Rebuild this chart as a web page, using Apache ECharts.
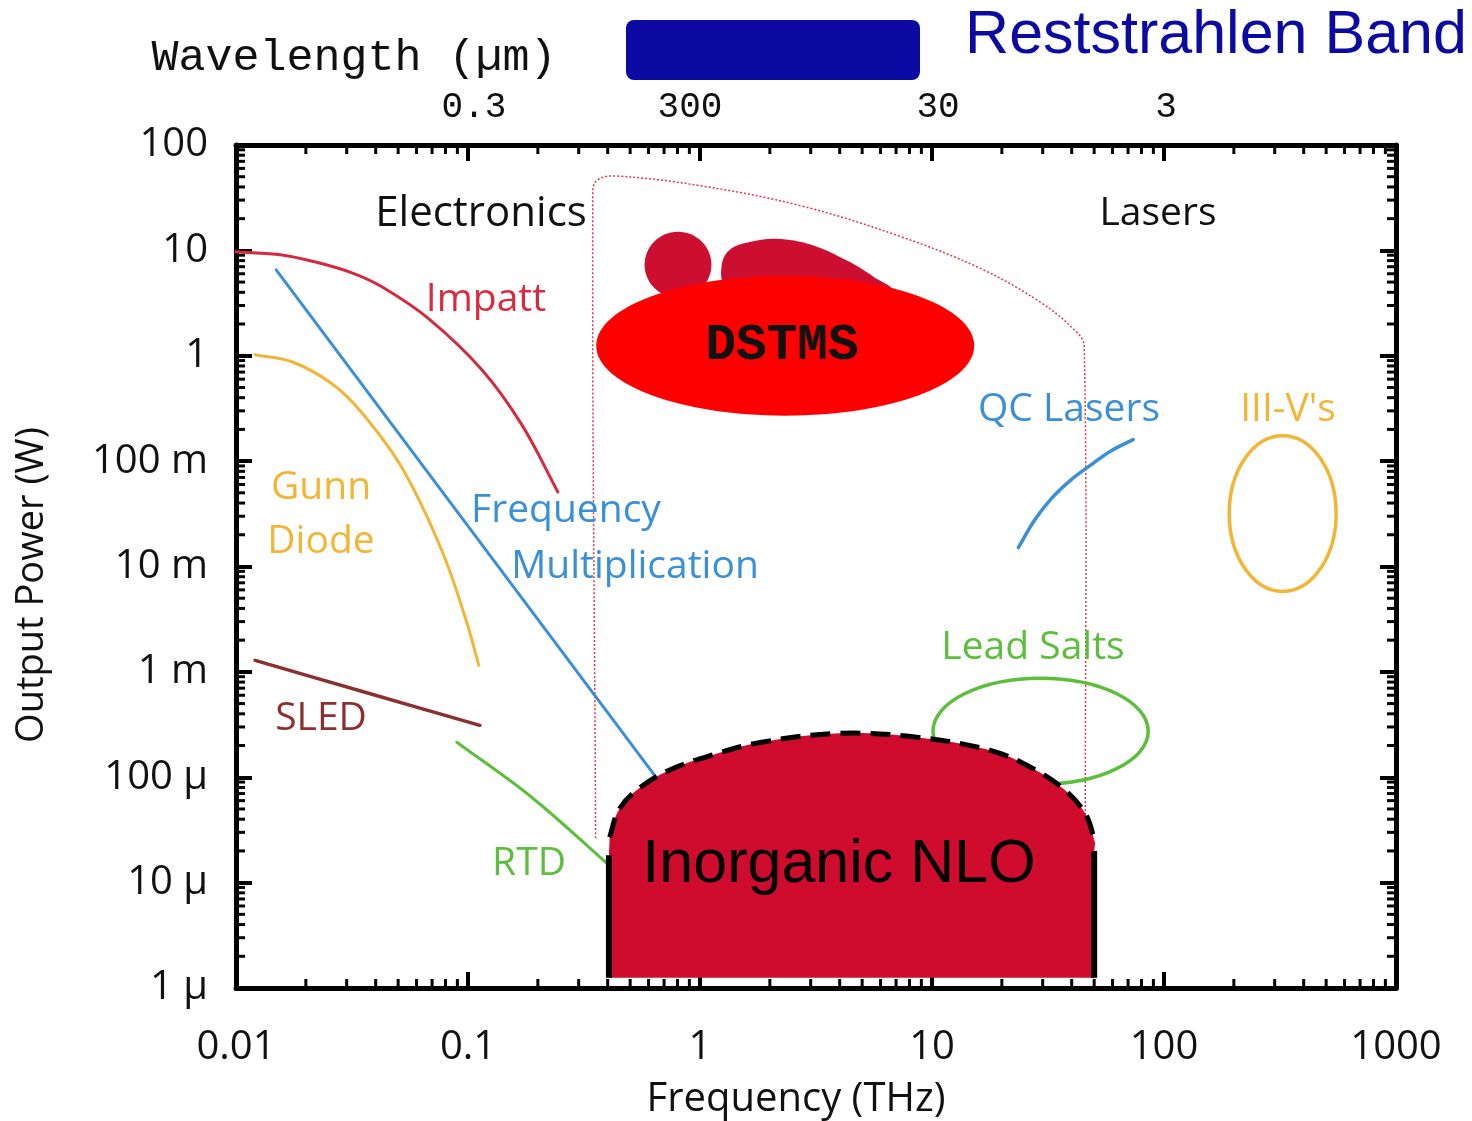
<!DOCTYPE html>
<html>
<head>
<meta charset="utf-8">
<script src="https://cdn.jsdelivr.net/npm/echarts@6/dist/echarts.min.js"></script>
<style>
  html, body { margin: 0; padding: 0; background: #fff; }
  #main { width: 1472px; height: 1121px; }
</style>
</head>
<body>
<div id="main"></div>
<script>
// ---- Axis labels ----
const xTickLabels = ['0.01', '0.1', '1', '10', '100', '1000'];
const yTickLabels = ['1 µ', '10 µ', '100 µ', '1 m', '10 m', '100 m', '1', '10', '100'];
const wavelengthFreq = [0.1, 1, 10, 100];
const wavelengthLabels = ['0.3', '300', '30', '3'];

// ---- Source curves: frequency (THz) / output power (W) ----
const impattFreq  = [0.01, 0.01578, 0.02188, 0.0316, 0.04254, 0.0678, 0.1147, 0.1705, 0.244];
const impattPower = [9.68, 9.06, 7.78, 6.12, 4.51, 2.24, 0.737, 0.222, 0.051];

const multFreq  = [0.0149, 0.718];
const multPower = [6.53, 7.36e-5];

const gunnFreq  = [0.01208, 0.01742, 0.02591, 0.03488, 0.05186, 0.07713, 0.0988, 0.1113];
const gunnPower = [1.022, 0.877, 0.543, 0.2882, 0.0868, 0.01418, 0.002944, 0.001152];

const sledFreq  = [0.0121, 0.036, 0.1125];
const sledPower = [1.285e-3, 6.4e-4, 3.11e-4];

const rtdFreq  = [0.0895, 0.188, 0.396];
const rtdPower = [2.15e-4, 6.46e-5, 1.53e-5];

const qcFreq  = [23.56, 27.61, 32.68, 39.84, 48.59, 59.24, 73.68];
const qcPower = [0.01514, 0.02729, 0.04411, 0.06677, 0.09265, 0.1257, 0.16];

// organic crystal coverage outline (dotted)
const organicFreq  = [0.355, 0.345, 0.362, 0.433, 1.016, 2.739, 7.384, 16.32, 29.59, 41.46, 45.3, 45.8];
const organicPower = [2.64e-5, 36.6, 46.6, 50.8, 40.88, 26.42, 13.43, 6.676, 3.18, 1.726, 1.24, 2.53e-5];

// ---- Regions given as [low, high] extents ----
const leadSaltsFreq  = [10.1, 85.5];
const leadSaltsPower = [8.6e-5, 8.7e-4];
const iiiVFreq  = [191, 552];
const iiiVPower = [0.0058, 0.1745];
const dstmsFreq  = [0.357, 15.2];
const dstmsPower = [0.27, 5.73];
const dotFreq  = [0.577, 1.12];
const dotPower = [3.55, 15.0];

// crimson lobe above DSTMS (closed outline)
const lobeFreq  = [1.289, 1.239, 1.341, 1.636, 2.14, 3.02, 4.32, 5.59, 6.69, 3.69, 1.84];
const lobePower = [4.61, 7.13, 10.1, 12.0, 12.9, 11.3, 7.95, 5.61, 3.95, 3.32, 3.32];

// Inorganic NLO dome and walls
const nloFreq  = [0.408, 0.446, 0.533, 0.732, 1.122, 1.842, 4.03, 8.74, 17.84, 27.06, 37.5, 46.2, 50.5];
const nloPower = [2.70e-5, 4.86e-5, 7.53e-5, 1.16e-4, 1.62e-4, 2.15e-4, 2.61e-4, 2.39e-4, 1.80e-4, 1.22e-4, 7.53e-5, 4.36e-5, 2.37e-5];
const nloWallFreq  = [0.405, 50.0];
const nloWallTop   = [1.82e-5, 2.0e-5];
const nloFloorPower = 1.25e-6;

// log-axis minor tick multiples
const minorSteps = [2, 3, 4, 5, 6, 7, 8, 9];
const xDecades = [-2, -1, 0, 1, 2];
const yDecades = [-6, -5, -4, -3, -2, -1, 0, 1];

const X_MIN = 0.01, X_MAX = 1000, Y_MIN = 1e-6, Y_MAX = 100;

const zip = (xs, ys) => xs.map((x, i) => [x, ys[i]]);

// Smooth cubic path through pixel points; tangents follow the neighbours'
// direction and are scaled by each segment's own length (no overshoot).
function smoothPath(pts, closed, k) {
  k = k == null ? 0.36 : k;
  const n = pts.length;
  const get = i => closed ? pts[(i + n) % n] : pts[Math.max(0, Math.min(n - 1, i))];
  const unit = (a, b) => {
    const dx = b[0] - a[0], dy = b[1] - a[1];
    const l = Math.hypot(dx, dy) || 1;
    return [dx / l, dy / l];
  };
  let d = 'M' + pts[0][0] + ',' + pts[0][1];
  const segs = closed ? n : n - 1;
  for (let i = 0; i < segs; i++) {
    const p0 = get(i - 1), p1 = get(i), p2 = get(i + 1), p3 = get(i + 2);
    const len = Math.hypot(p2[0] - p1[0], p2[1] - p1[1]) * k;
    const t1 = unit(p0, p2), t2 = unit(p1, p3);
    const c1 = [p1[0] + t1[0] * len, p1[1] + t1[1] * len];
    const c2 = [p2[0] - t2[0] * len, p2[1] - t2[1] * len];
    d += 'C' + c1[0] + ',' + c1[1] + ' ' + c2[0] + ',' + c2[1] + ' ' + p2[0] + ',' + p2[1];
  }
  if (closed) d += 'Z';
  return d;
}

function curve(name, freq, power, style, z) {
  return {
    type: 'custom', name: name, z: z || 3, silent: true,
    data: zip(freq, power),
    renderItem: function (params, api) {
      if (params.dataIndex !== 0) return;
      const pts = freq.map((f, i) => api.coord([f, power[i]]));
      return { type: 'path', shape: { pathData: smoothPath(pts, false) }, style: Object.assign({ fill: 'none', lineCap: 'round' }, style) };
    }
  };
}

function ellipse(name, freq, power, style, z) {
  return {
    type: 'custom', name: name, z: z, silent: true,
    data: zip(freq, power),
    renderItem: function (params, api) {
      if (params.dataIndex !== 0) return;
      const a = api.coord([freq[0], power[1]]);
      const b = api.coord([freq[1], power[0]]);
      return {
        type: 'ellipse',
        shape: { cx: (a[0] + b[0]) / 2, cy: (a[1] + b[1]) / 2, rx: Math.abs(b[0] - a[0]) / 2, ry: Math.abs(b[1] - a[1]) / 2 },
        style: style
      };
    }
  };
}

const xMinor = [];
xDecades.forEach(d => minorSteps.forEach(m => xMinor.push([m * Math.pow(10, d), Y_MIN])));
const yMinor = [];
yDecades.forEach(d => minorSteps.forEach(m => yMinor.push([X_MIN, m * Math.pow(10, d)])));

const TICK = '#000';
const sans = "'Open Sans', 'Noto Sans', sans-serif";
const mono = "'Liberation Mono', 'DejaVu Sans Mono', monospace";
const arial = "'Liberation Sans', Arial, sans-serif";

function label(text, x, y, color, size, font, weight) {
  return {
    type: 'text', x: x, y: y, z: 100, silent: true,
    style: {
      text: text, fill: color, fontSize: size, fontFamily: font || sans, fontWeight: weight || 'normal',
      align: 'center', verticalAlign: 'middle', textAlign: 'center', textVerticalAlign: 'middle'
    }
  };
}

const chart = echarts.init(document.getElementById('main'), null, { renderer: 'canvas' });

const axisCommon = {
  type: 'log', logBase: 10, interval: 1,
  axisLine: { show: true, onZero: false, lineStyle: { color: TICK, width: 5 } },
  axisTick: { show: true, inside: true, length: 16, lineStyle: { color: TICK, width: 4 } },
  splitLine: { show: false },
  minorTick: { show: false }
};

// wavelength labels sit slightly off their ticks
const wlStyles = ['r', 'l', 'r', 'n'];
const wlRich = {
  r: { fontSize: 36, fontFamily: mono, color: '#111', padding: [0, 0, 0, 12] },
  l: { fontSize: 36, fontFamily: mono, color: '#111', padding: [0, 20, 0, 0] },
  n: { fontSize: 36, fontFamily: mono, color: '#111', padding: [5, 0, 0, 4] }
};

chart.setOption({
  animation: false,
  backgroundColor: '#fff',
  grid: { left: 236, right: 76, top: 145, bottom: 133, containLabel: false },
  xAxis: [
    Object.assign({}, axisCommon, {
      min: X_MIN, max: X_MAX, position: 'bottom',
      axisLabel: {
        color: '#111', fontSize: 40, fontFamily: sans, margin: 40,
        formatter: v => xTickLabels[Math.round(Math.log10(v)) + 2] || ''
      }
    }),
    Object.assign({}, axisCommon, {
      min: X_MIN, max: X_MAX, position: 'top',
      axisLabel: {
        color: '#111', fontSize: 36, fontFamily: mono, margin: 20, rich: wlRich,
        formatter: v => {
          const i = wavelengthFreq.findIndex(f => Math.abs(Math.log10(f) - Math.log10(v)) < 1e-6);
          return i >= 0 ? '{' + wlStyles[i] + '|' + wavelengthLabels[i] + '}' : '';
        }
      }
    })
  ],
  yAxis: [
    Object.assign({}, axisCommon, {
      min: Y_MIN, max: Y_MAX, position: 'left',
      axisLabel: {
        color: '#111', fontSize: 40, fontFamily: sans, margin: 28,
        formatter: v => yTickLabels[Math.round(Math.log10(v)) + 6] || ''
      }
    }),
    Object.assign({}, axisCommon, {
      min: Y_MIN, max: Y_MAX, position: 'right',
      axisLabel: { show: false }
    })
  ],
  graphic: [
    { type: 'rect', z: 100, shape: { x: 626, y: 20, width: 294, height: 60, r: 8 }, style: { fill: '#0b0ba3' } },
    label('Reststrahlen Band', 1216, 36, '#0b0ba3', 61, arial),
    label('Wavelength (µm)', 354, 58, '#111', 45, mono),
    label('Frequency (THz)', 796, 1100, '#111', 40),
    Object.assign(label('Output Power (W)', 32, 585, '#111', 38), { rotation: Math.PI / 2 }),
    label('Electronics', 481, 214, '#111', 42),
    label('Lasers', 1158, 214, '#111', 39),
    label('Impatt', 486, 300, '#d92b3f', 39),
    label('Gunn', 321, 488, '#f2b535', 39),
    label('Diode', 321, 542, '#f2b535', 39),
    label('Frequency', 566, 511, '#3a8fd6', 39),
    label('Multiplication', 635, 567, '#3a8fd6', 39),
    label('SLED', 321, 719, '#8c2f2f', 39),
    label('RTD', 529, 864, '#5cbf3b', 39),
    label('QC Lasers', 1069, 410, '#3a8fd6', 39),
    label("III-V's", 1288, 410, '#f2b535', 39),
    label('Lead Salts', 1033, 648, '#5cbf3b', 39),
    label('DSTMS', 782, 346, '#111', 51, mono, 'bold'),
    label('Inorganic NLO', 839, 865, '#000', 61, arial)
  ],
  series: [
    // minor ticks along the bottom and top edges
    {
      type: 'custom', z: 1, silent: true, data: xMinor,
      renderItem: function (params, api) {
        const v = api.value(0);
        const pb = api.coord([v, Y_MIN]);
        const pt = api.coord([v, Y_MAX]);
        return { type: 'group', children: [
          { type: 'line', shape: { x1: pb[0], y1: pb[1], x2: pb[0], y2: pb[1] - 9 }, style: { stroke: TICK, lineWidth: 3 } },
          { type: 'line', shape: { x1: pt[0], y1: pt[1], x2: pt[0], y2: pt[1] + 9 }, style: { stroke: TICK, lineWidth: 3 } }
        ] };
      }
    },
    // minor ticks along the left and right edges
    {
      type: 'custom', z: 1, silent: true, data: yMinor,
      renderItem: function (params, api) {
        const v = api.value(1);
        const pl = api.coord([X_MIN, v]);
        const pr = api.coord([X_MAX, v]);
        return { type: 'group', children: [
          { type: 'line', shape: { x1: pl[0], y1: pl[1], x2: pl[0] + 9, y2: pl[1] }, style: { stroke: TICK, lineWidth: 3 } },
          { type: 'line', shape: { x1: pr[0], y1: pr[1], x2: pr[0] - 9, y2: pr[1] }, style: { stroke: TICK, lineWidth: 3 } }
        ] };
      }
    },
    curve('Organic crystals', organicFreq, organicPower, { stroke: '#e8334a', lineWidth: 1.5, lineDash: [2, 2], lineCap: 'butt' }, 2),
    curve('Impatt', impattFreq, impattPower, { stroke: '#d42a40', lineWidth: 3 }),
    curve('Frequency Multiplication', multFreq, multPower, { stroke: '#3a8fd6', lineWidth: 3 }),
    curve('Gunn Diode', gunnFreq, gunnPower, { stroke: '#f2b535', lineWidth: 3 }),
    curve('SLED', sledFreq, sledPower, { stroke: '#8c2f2f', lineWidth: 3.5 }),
    curve('RTD', rtdFreq, rtdPower, { stroke: '#5cbf3b', lineWidth: 3 }),
    curve('QC Lasers', qcFreq, qcPower, { stroke: '#3a8fd6', lineWidth: 3.5 }),
    ellipse('Lead Salts', leadSaltsFreq, leadSaltsPower, { fill: 'none', stroke: '#5cbf3b', lineWidth: 3.5 }, 3),
    ellipse("III-V's", iiiVFreq, iiiVPower, { fill: 'none', stroke: '#f2b535', lineWidth: 3.5 }, 3),
    ellipse('DSTMS dot', dotFreq, dotPower, { fill: '#cc0f30' }, 4),
    {
      type: 'custom', name: 'DSTMS lobe', z: 4, silent: true, data: zip(lobeFreq, lobePower),
      renderItem: function (params, api) {
        if (params.dataIndex !== 0) return;
        const pts = lobeFreq.map((f, i) => api.coord([f, lobePower[i]]));
        return { type: 'path', shape: { pathData: smoothPath(pts, true) }, style: { fill: '#cc0f30' } };
      }
    },
    ellipse('DSTMS', dstmsFreq, dstmsPower, { fill: '#ff0000' }, 5),
    {
      type: 'custom', name: 'Inorganic NLO', z: 6, silent: true, data: zip(nloFreq, nloPower),
      renderItem: function (params, api) {
        if (params.dataIndex !== 0) return;
        const dome = nloFreq.map((f, i) => api.coord([f, nloPower[i]]));
        const bl = api.coord([nloWallFreq[0], nloFloorPower]);
        const br = api.coord([nloWallFreq[1], nloFloorPower]);
        const lt = api.coord([nloWallFreq[0], nloWallTop[0]]);
        const rt = api.coord([nloWallFreq[1], nloWallTop[1]]);
        const domePath = smoothPath(dome, false);
        const fillPath = 'M' + bl[0] + ',' + bl[1] + 'L' + lt[0] + ',' + lt[1] + 'L' + dome[0][0] + ',' + dome[0][1] +
          domePath.slice(domePath.indexOf('C')) + 'L' + rt[0] + ',' + rt[1] + 'L' + br[0] + ',' + br[1] + 'Z';
        return { type: 'group', children: [
          { type: 'path', shape: { pathData: fillPath }, style: { fill: '#cf0c2e', stroke: 'none' } },
          { type: 'path', shape: { pathData: domePath }, style: { fill: 'none', stroke: '#000', lineWidth: 5, lineDash: [20, 10] } },
          { type: 'line', shape: { x1: lt[0], y1: lt[1], x2: bl[0], y2: bl[1] }, style: { stroke: '#000', lineWidth: 6 } },
          { type: 'line', shape: { x1: rt[0], y1: rt[1], x2: br[0], y2: br[1] }, style: { stroke: '#000', lineWidth: 6 } }
        ] };
      }
    }
  ]
});
</script>
</body>
</html>
